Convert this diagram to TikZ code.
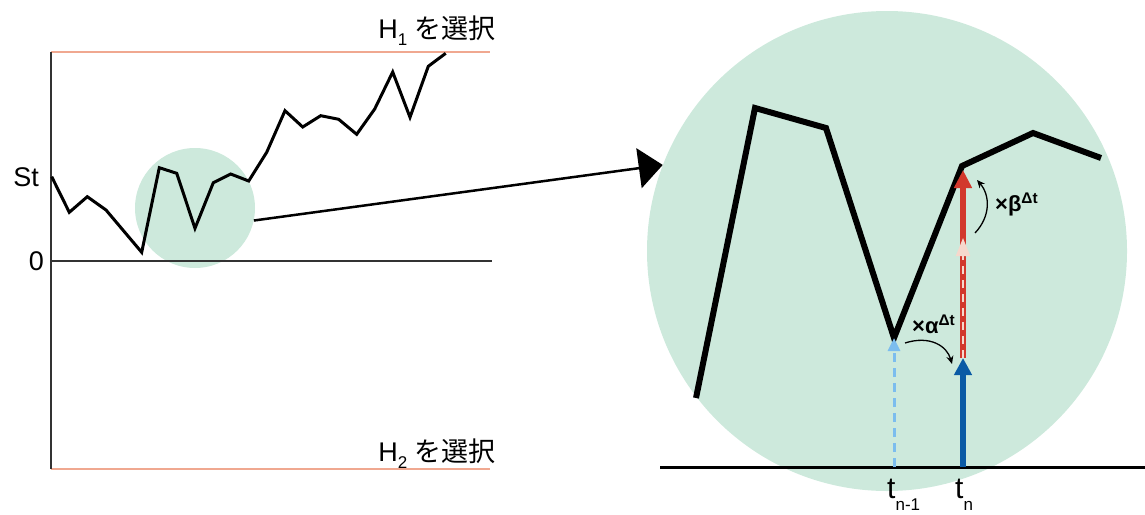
\documentclass[tikz,border=0pt]{standalone}
\usepackage{fontspec}
\setmainfont{Liberation Sans}
\newfontfamily\jpfont{Noto Sans CJK JP}
\usepackage{xcolor}
\usetikzlibrary{arrows.meta}
\definecolor{zoomgreen}{HTML}{CDE9DC}
\definecolor{barrier}{HTML}{F0A890}
\definecolor{pastblue}{HTML}{7CBDEE}
\definecolor{nowblue}{HTML}{0A5AA5}
\definecolor{gainred}{HTML}{D2382C}
\definecolor{palered}{HTML}{F6D8CC}
\newcommand{\lowsub}[2]{\raisebox{#1}{\fontsize{17}{17}\selectfont #2}}

\begin{document}
\begin{tikzpicture}[x=1pt,y=-1pt,
  lens/.style={circle,fill=zoomgreen,draw=none,inner sep=0pt},
  axis/.style={draw=black!80,line width=1.4pt},
  bound/.style={draw=barrier,line width=1.6pt},
  walk/.style={draw=black,line width=3pt,line join=miter},
  bigwalk/.style={draw=black,line width=6pt,line join=miter},
  lbl/.style={inner sep=0pt,font=\fontsize{27}{30}\selectfont},
  tlbl/.style={inner sep=0pt,font=\fontsize{30}{32}\selectfont},
  factor/.style={inner sep=0pt,font=\bfseries\fontsize{22}{24}\selectfont},
  curl/.style={draw,line width=1.3pt,-{Stealth[length=8pt,width=7pt]}}]
\useasboundingbox (0,0) rectangle (1145,514);

% zoom lenses
\node[lens,minimum size=120pt] (small) at (195,208) {};
\node[lens,minimum size=480pt] (big) at (887,251) {};

% left chart: axes and the two barriers
\draw[bound] (51,52) -- (490,52);
\draw[bound] (51,469) -- (490,469);
\draw[axis] (51,52) -- (51,469);
\draw[axis] (51,261) -- (492,261);
\node[lbl,anchor=east] (st) at (39,177) {St};
\node[lbl,anchor=east] (zero) at (44,261) {0};
\node[lbl,anchor=base east] (hone) at (496,38) {H\lowsub{-7pt}{1} {\jpfont を選択}};
\node[lbl,anchor=base east] (htwo) at (496,461) {H\lowsub{-7pt}{2} {\jpfont を選択}};

% price path
\draw[walk] (51.7,176.7) -- (69.3,212.3) -- (87.3,196.7) -- (106,210)
  -- (141.7,252.3) -- (159.3,167.7) -- (176.7,173.3) -- (195,228.3)
  -- (213.3,182.7) -- (230.7,174) -- (248.7,181) -- (266.7,152.3)
  -- (285,110.7) -- (302.7,127) -- (320.7,115.7) -- (338.7,119.3)
  -- (356.7,134.3) -- (374.7,109) -- (392.7,72) -- (410,117.3)
  -- (428.3,66.3) -- (445.7,53.3);

% zoom connector
\draw[line width=2.5pt,-{Triangle[length=24pt,width=40pt]}] (small.-12) -- (big.159);

% magnified part
\draw[line width=3pt] (660,467) -- (1145,467);
\coordinate (tprev) at (894,467);
\coordinate (tnow) at (963,467);
\coordinate (vlow) at (894,338);
\coordinate (vhigh) at (963,170);
\coordinate (mid) at (963,358);
\coordinate (fade) at (963,238);
\draw[bigwalk] (696,398) -- (755,108) -- (826,128) -- (894,338)
  -- (962,166) -- (1033,133) -- (1101,158);

\draw[pastblue,line width=3pt,dash pattern=on 9pt off 6pt,
  -{Triangle[length=13pt,width=12pt]}] (tprev) -- (vlow);
\draw[nowblue,line width=5.5pt,-{Triangle[length=17pt,width=17pt]}] (tnow) -- (mid);
\draw[gainred,line width=5.5pt,-{Triangle[length=18pt,width=17pt]}] (mid) -- (vhigh);
\draw[palered,line width=2pt,dash pattern=on 8pt off 6pt,
  -{Triangle[length=18pt,width=14pt]}] (mid) -- (fade);

\draw[curl] (905,343) .. controls (930,335) and (947,346) .. (952,364);
\draw[curl] (975,233) .. controls (991,216) and (990,195) .. (977,180);
\node[factor,anchor=base west] (alpha) at (912,333) {×α\textsuperscript{Δt}};
\node[factor,anchor=base west] (beta) at (995,211) {×β\textsuperscript{Δt}};

\node[tlbl,anchor=base west] (tlast) at (887,498) {t\lowsub{-12pt}{n-1}};
\node[tlbl,anchor=base west] (tcur) at (955,498) {t\lowsub{-12pt}{n}};
\end{tikzpicture}
\end{document}
